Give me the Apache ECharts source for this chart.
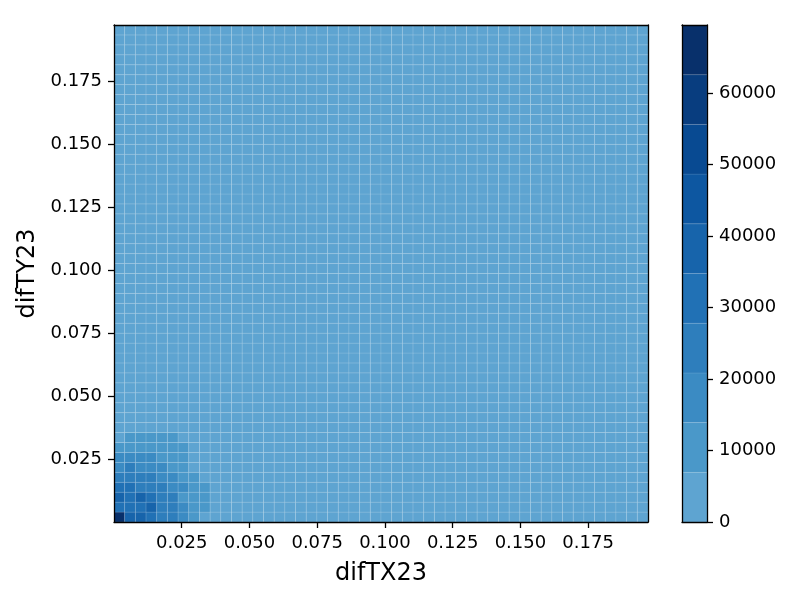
<!DOCTYPE html>
<html><head><meta charset="utf-8">
<script src="https://cdn.jsdelivr.net/npm/echarts@6/dist/echarts.min.js"></script>
<style>html,body{margin:0;padding:0;background:#fff}#c{width:791px;height:592px}</style>
</head><body><div id="c"></div>
<script>
// ---- data ----
const xRange = [0.0, 0.1971];          // extent of the x bin edges
const yRange = [0.0, 0.1974];          // extent of the y bin edges
const xTicks = [0.025, 0.050, 0.075, 0.100, 0.125, 0.150, 0.175];
const yTicks = [0.025, 0.050, 0.075, 0.100, 0.125, 0.150, 0.175];
const levelEdges = [0, 6950, 13900, 20850, 27800, 34750, 41700, 48650, 55600, 62550, 69500];
const levelColors = ['#5ea4d1', '#4a98c9', '#3b8bc3', '#2e7ebc', '#2171b5',
                     '#1764ab', '#0d57a1', '#084a92', '#083d7f', '#08306b'];
const cbTicks = [0, 10000, 20000, 30000, 40000, 50000, 60000];
// band index of every cell, bottom row first, 50 x 50
const cellLevels = [
 "9554332100 0000000000 0000000000 0000000000 0000000000",
 "4445332110 0000000000 0000000000 0000000000 0000000000",
 "5454331110 0000000000 0000000000 0000000000 0000000000",
 "4433322110 0000000000 0000000000 0000000000 0000000000",
 "3333221100 0000000000 0000000000 0000000000 0000000000",
 "2322211000 0000000000 0000000000 0000000000 0000000000",
 "2222111000 0000000000 0000000000 0000000000 0000000000",
 "1111111000 0000000000 0000000000 0000000000 0000000000",
 "0111110000 0000000000 0000000000 0000000000 0000000000",
 "0000000000 0000000000 0000000000 0000000000 0000000000",
 "0000000000 0000000000 0000000000 0000000000 0000000000",
 "0000000000 0000000000 0000000000 0000000000 0000000000",
 "0000000000 0000000000 0000000000 0000000000 0000000000",
 "0000000000 0000000000 0000000000 0000000000 0000000000",
 "0000000000 0000000000 0000000000 0000000000 0000000000",
 "0000000000 0000000000 0000000000 0000000000 0000000000",
 "0000000000 0000000000 0000000000 0000000000 0000000000",
 "0000000000 0000000000 0000000000 0000000000 0000000000",
 "0000000000 0000000000 0000000000 0000000000 0000000000",
 "0000000000 0000000000 0000000000 0000000000 0000000000",
 "0000000000 0000000000 0000000000 0000000000 0000000000",
 "0000000000 0000000000 0000000000 0000000000 0000000000",
 "0000000000 0000000000 0000000000 0000000000 0000000000",
 "0000000000 0000000000 0000000000 0000000000 0000000000",
 "0000000000 0000000000 0000000000 0000000000 0000000000",
 "0000000000 0000000000 0000000000 0000000000 0000000000",
 "0000000000 0000000000 0000000000 0000000000 0000000000",
 "0000000000 0000000000 0000000000 0000000000 0000000000",
 "0000000000 0000000000 0000000000 0000000000 0000000000",
 "0000000000 0000000000 0000000000 0000000000 0000000000",
 "0000000000 0000000000 0000000000 0000000000 0000000000",
 "0000000000 0000000000 0000000000 0000000000 0000000000",
 "0000000000 0000000000 0000000000 0000000000 0000000000",
 "0000000000 0000000000 0000000000 0000000000 0000000000",
 "0000000000 0000000000 0000000000 0000000000 0000000000",
 "0000000000 0000000000 0000000000 0000000000 0000000000",
 "0000000000 0000000000 0000000000 0000000000 0000000000",
 "0000000000 0000000000 0000000000 0000000000 0000000000",
 "0000000000 0000000000 0000000000 0000000000 0000000000",
 "0000000000 0000000000 0000000000 0000000000 0000000000",
 "0000000000 0000000000 0000000000 0000000000 0000000000",
 "0000000000 0000000000 0000000000 0000000000 0000000000",
 "0000000000 0000000000 0000000000 0000000000 0000000000",
 "0000000000 0000000000 0000000000 0000000000 0000000000",
 "0000000000 0000000000 0000000000 0000000000 0000000000",
 "0000000000 0000000000 0000000000 0000000000 0000000000",
 "0000000000 0000000000 0000000000 0000000000 0000000000",
 "0000000000 0000000000 0000000000 0000000000 0000000000",
 "0000000000 0000000000 0000000000 0000000000 0000000000",
 "0000000000 0000000000 0000000000 0000000000 0000000000"
];
const xLabel = 'difTX23';
const yLabel = 'difTY23';

// ---- build tables ----
const rows = cellLevels.map(s => s.replace(/\s+/g, ''));
const ny = rows.length, nx = rows[0].length;
const dx = (xRange[1] - xRange[0]) / nx, dy = (yRange[1] - yRange[0]) / ny;
const cells = [];
for (let r = 0; r < ny; r++) {
  for (let c = 0; c < nx; c++) {
    const x0 = xRange[0] + c * dx, y0 = yRange[0] + r * dy;
    cells.push([x0, x0 + dx, y0, y0 + dy, +rows[r][c]]);
  }
}
const bands = [];
for (let i = 0; i < levelColors.length; i++) bands.push([levelEdges[i], levelEdges[i + 1], i]);

const FONT = 'DejaVu Sans';
const black = '#000';
const lineW = 1.3;
const tickStyle = { show: true, length: 6, inside: false, lineStyle: { color: black, width: lineW } };
const labelStyle = { color: black, fontFamily: FONT, fontSize: 18, margin: 12 };
const frameAxis = (extra) => Object.assign({
  type: 'value', z: 10, axisLine: { show: true, onZero: false, lineStyle: { color: black, width: lineW } },
  axisTick: { show: false }, axisLabel: { show: false }, splitLine: { show: false }
}, extra);

const chart = echarts.init(document.getElementById('c'), null, { renderer: 'canvas' });
chart.setOption({
  animation: false,
  backgroundColor: '#fff',
  grid: [
    { left: 114, right: 143, top: 25, bottom: 70 },
    { left: 682, width: 25, top: 25, bottom: 70 }
  ],
  xAxis: [
    { type: 'value', gridIndex: 0, min: xRange[0], max: xRange[1], position: 'bottom', z: 10,
      axisLine: { show: true, onZero: false, lineStyle: { color: black, width: lineW } },
      axisTick: Object.assign({ customValues: xTicks }, tickStyle),
      axisLabel: Object.assign({ customValues: xTicks, formatter: v => v.toFixed(3) }, labelStyle),
      splitLine: { show: false },
      name: xLabel, nameLocation: 'middle', nameGap: 40,
      nameTextStyle: { color: black, fontFamily: FONT, fontSize: 24 } },
    frameAxis({ gridIndex: 0, min: xRange[0], max: xRange[1], position: 'top' }),
    frameAxis({ gridIndex: 1, min: 0, max: 1, position: 'bottom' }),
    frameAxis({ gridIndex: 1, min: 0, max: 1, position: 'top' })
  ],
  yAxis: [
    { type: 'value', gridIndex: 0, min: yRange[0], max: yRange[1], position: 'left', z: 10,
      axisLine: { show: true, onZero: false, lineStyle: { color: black, width: lineW } },
      axisTick: Object.assign({ customValues: yTicks }, tickStyle),
      axisLabel: Object.assign({ customValues: yTicks, formatter: v => v.toFixed(3) }, labelStyle),
      splitLine: { show: false },
      name: yLabel, nameLocation: 'middle', nameGap: 74, nameRotate: 90,
      nameTextStyle: { color: black, fontFamily: FONT, fontSize: 24 } },
    frameAxis({ gridIndex: 0, min: yRange[0], max: yRange[1], position: 'right' }),
    { type: 'value', gridIndex: 1, min: levelEdges[0], max: levelEdges[levelEdges.length - 1], position: 'right', z: 10,
      axisLine: { show: true, onZero: false, lineStyle: { color: black, width: lineW } },
      axisTick: Object.assign({ customValues: cbTicks }, tickStyle),
      axisLabel: Object.assign({ customValues: cbTicks, formatter: v => String(v) }, labelStyle),
      splitLine: { show: false } },
    frameAxis({ gridIndex: 1, min: levelEdges[0], max: levelEdges[levelEdges.length - 1], position: 'left' })
  ],
  series: [
    { type: 'custom', xAxisIndex: 0, yAxisIndex: 0, data: cells,
      encode: { x: [0, 1], y: [2, 3] }, silent: true,
      renderItem: (params, api) => {
        const p0 = api.coord([api.value(0), api.value(2)]);
        const p1 = api.coord([api.value(1), api.value(3)]);
        return { type: 'rect',
          shape: { x: p0[0], y: p1[1], width: p1[0] - p0[0], height: p0[1] - p1[1] },
          style: { fill: levelColors[api.value(4)], stroke: 'rgba(255,255,255,0.14)', lineWidth: 0.8 } };
      } },
    { type: 'custom', xAxisIndex: 2, yAxisIndex: 2, data: bands,
      encode: { y: [0, 1] }, silent: true,
      renderItem: (params, api) => {
        const p0 = api.coord([0, api.value(0)]);
        const p1 = api.coord([1, api.value(1)]);
        return { type: 'rect',
          shape: { x: p0[0], y: p1[1], width: p1[0] - p0[0], height: p0[1] - p1[1] },
          style: { fill: levelColors[api.value(2)], stroke: 'rgba(255,255,255,0.12)', lineWidth: 0.8 } };
      } }
  ]
});
</script>
</body></html>
